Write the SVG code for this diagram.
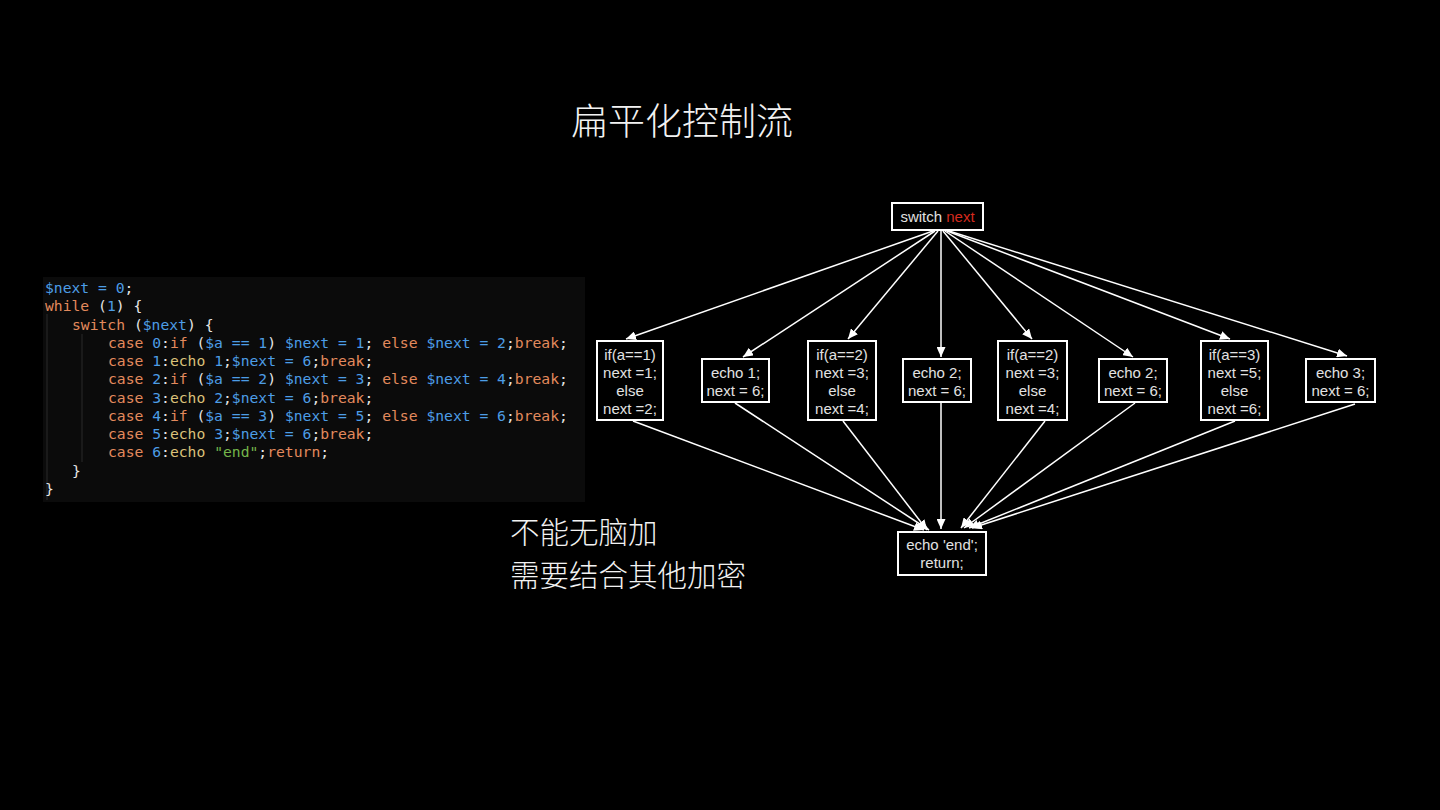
<svg xmlns="http://www.w3.org/2000/svg" width="1440" height="810" viewBox="0 0 1440 810">
<defs>
<marker id="ah" markerUnits="userSpaceOnUse" markerWidth="11" markerHeight="9" refX="10" refY="4.5" orient="auto">
<path d="M0,0 L10,4.5 L0,9 Z" fill="#ffffff"/>
</marker>
<style>
.code{font-family:"DejaVu Sans Mono","Liberation Mono",monospace;font-size:14.7px;fill:#e6e6e6}
.b{fill:#4d9de6}.o{fill:#e38a5d}.y{fill:#dcc27a}.g{fill:#74b54a}.w{fill:#e6e6e6}
.box{fill:#000;stroke:#fff;stroke-width:2}
.nt{font-family:"Liberation Sans","DejaVu Sans",sans-serif;font-size:15px;fill:#e2e2e2;text-anchor:middle}
.edge{stroke:#fff;stroke-width:1.5;fill:none;marker-end:url(#ah)}
.cn{font-family:"Noto Sans CJK SC",sans-serif;font-weight:300;fill:#f2f2f2}
</style>
</defs>
<rect width="1440" height="810" fill="#000"/>
<text class="cn" x="571" y="135" font-size="37">扁平化控制流</text>
<g id="code">
<rect x="43" y="277" width="542" height="225" fill="#0b0b0b"/>
<line x1="47" y1="314" x2="47" y2="500" stroke="#2a2a2a" stroke-width="1"/>
<line x1="82" y1="334" x2="82" y2="462" stroke="#2a2a2a" stroke-width="1"/>
<text class="code" xml:space="preserve">
<tspan x="45" y="293"><tspan class="b">$next = 0</tspan>;</tspan>
<tspan x="45" y="311.3"><tspan class="o">while</tspan> (<tspan class="b">1</tspan>) {</tspan>
<tspan x="72" y="329.5"><tspan class="o">switch</tspan> (<tspan class="b">$next</tspan>) {</tspan>
<tspan x="108" y="347.8"><tspan class="o">case </tspan><tspan class="b">0</tspan>:<tspan class="o">if</tspan> (<tspan class="b">$a == 1</tspan>) <tspan class="b">$next = 1</tspan>; <tspan class="o">else </tspan><tspan class="b">$next = 2</tspan>;<tspan class="o">break</tspan>;</tspan>
<tspan x="108" y="366.1"><tspan class="o">case </tspan><tspan class="b">1</tspan>:<tspan class="y">echo </tspan><tspan class="b">1</tspan>;<tspan class="b">$next = 6</tspan>;<tspan class="o">break</tspan>;</tspan>
<tspan x="108" y="384.4"><tspan class="o">case </tspan><tspan class="b">2</tspan>:<tspan class="o">if</tspan> (<tspan class="b">$a == 2</tspan>) <tspan class="b">$next = 3</tspan>; <tspan class="o">else </tspan><tspan class="b">$next = 4</tspan>;<tspan class="o">break</tspan>;</tspan>
<tspan x="108" y="402.6"><tspan class="o">case </tspan><tspan class="b">3</tspan>:<tspan class="y">echo </tspan><tspan class="b">2</tspan>;<tspan class="b">$next = 6</tspan>;<tspan class="o">break</tspan>;</tspan>
<tspan x="108" y="420.9"><tspan class="o">case </tspan><tspan class="b">4</tspan>:<tspan class="o">if</tspan> (<tspan class="b">$a == 3</tspan>) <tspan class="b">$next = 5</tspan>; <tspan class="o">else </tspan><tspan class="b">$next = 6</tspan>;<tspan class="o">break</tspan>;</tspan>
<tspan x="108" y="439.2"><tspan class="o">case </tspan><tspan class="b">5</tspan>:<tspan class="y">echo </tspan><tspan class="b">3</tspan>;<tspan class="b">$next = 6</tspan>;<tspan class="o">break</tspan>;</tspan>
<tspan x="108" y="457.4"><tspan class="o">case </tspan><tspan class="b">6</tspan>:<tspan class="y">echo </tspan><tspan class="g">"end"</tspan>;<tspan class="o">return</tspan>;</tspan>
<tspan x="72" y="475.7">}</tspan>
<tspan x="45" y="494">}</tspan>
</text>
</g>
<g id="notes">
<text class="cn" x="510" y="543" font-size="29.5">不能无脑加</text>
<text class="cn" x="510" y="586" font-size="29.5">需要结合其他加密</text>
</g>
<g id="connectors">
<line class="edge" x1="933" y1="231" x2="626" y2="339"/>
<line class="edge" x1="935" y1="231" x2="743" y2="357"/>
<line class="edge" x1="938" y1="231" x2="848" y2="339"/>
<line class="edge" x1="941" y1="231" x2="941" y2="357"/>
<line class="edge" x1="943" y1="231" x2="1032" y2="339"/>
<line class="edge" x1="945" y1="231" x2="1133" y2="357"/>
<line class="edge" x1="947" y1="231" x2="1230" y2="339"/>
<line class="edge" x1="949" y1="231" x2="1347" y2="356"/>
<line class="edge" x1="633" y1="421" x2="924" y2="530"/>
<line class="edge" x1="735" y1="403" x2="929" y2="530"/>
<line class="edge" x1="843" y1="421" x2="927" y2="530"/>
<line class="edge" x1="941" y1="403" x2="941" y2="529"/>
<line class="edge" x1="1045" y1="421" x2="961" y2="528"/>
<line class="edge" x1="1135" y1="403" x2="964" y2="528"/>
<line class="edge" x1="1235" y1="421" x2="969" y2="528"/>
<line class="edge" x1="1355" y1="404" x2="972" y2="528"/>
</g>
<g id="switch">
<rect class="box" x="892" y="203" width="91" height="27"/>
<text class="nt" x="937.5" y="222"><tspan>switch </tspan><tspan fill="#d42a1e">next</tspan></text>
</g>
<g id="n1">
<rect class="box" x="597" y="341" width="66" height="79"/>
<text class="nt" x="630" y="360">if(a==1)</text>
<text class="nt" x="630" y="378">next =1;</text>
<text class="nt" x="630" y="396">else</text>
<text class="nt" x="630" y="414">next =2;</text>
</g>
<g id="n2">
<rect class="box" x="702" y="359" width="67" height="43"/>
<text class="nt" x="735.5" y="378">echo 1;</text>
<text class="nt" x="735.5" y="396">next = 6;</text>
</g>
<g id="n3">
<rect class="box" x="808" y="341" width="68" height="79"/>
<text class="nt" x="842" y="360">if(a==2)</text>
<text class="nt" x="842" y="378">next =3;</text>
<text class="nt" x="842" y="396">else</text>
<text class="nt" x="842" y="414">next =4;</text>
</g>
<g id="n4">
<rect class="box" x="903" y="359" width="68" height="43"/>
<text class="nt" x="937" y="378">echo 2;</text>
<text class="nt" x="937" y="396">next = 6;</text>
</g>
<g id="n5">
<rect class="box" x="998" y="341" width="69" height="79"/>
<text class="nt" x="1032.5" y="360">if(a==2)</text>
<text class="nt" x="1032.5" y="378">next =3;</text>
<text class="nt" x="1032.5" y="396">else</text>
<text class="nt" x="1032.5" y="414">next =4;</text>
</g>
<g id="n6">
<rect class="box" x="1099" y="359" width="68" height="43"/>
<text class="nt" x="1133" y="378">echo 2;</text>
<text class="nt" x="1133" y="396">next = 6;</text>
</g>
<g id="n7">
<rect class="box" x="1201" y="341" width="67" height="79"/>
<text class="nt" x="1234.5" y="360">if(a==3)</text>
<text class="nt" x="1234.5" y="378">next =5;</text>
<text class="nt" x="1234.5" y="396">else</text>
<text class="nt" x="1234.5" y="414">next =6;</text>
</g>
<g id="n8">
<rect class="box" x="1306" y="359" width="69" height="43"/>
<text class="nt" x="1340.5" y="378">echo 3;</text>
<text class="nt" x="1340.5" y="396">next = 6;</text>
</g>
<g id="end">
<rect class="box" x="898" y="532" width="88" height="43"/>
<text class="nt" x="942" y="550">echo 'end';</text>
<text class="nt" x="942" y="568">return;</text>
</g>
</svg>
